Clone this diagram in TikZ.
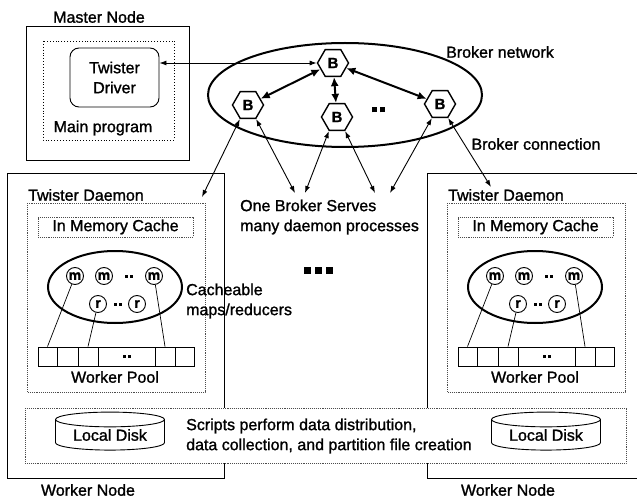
\documentclass[tikz,border=0pt]{standalone}
\usepackage{fontspec}
\setmainfont{Liberation Sans}[RawFeature={embolden=1.2}]
\usetikzlibrary{shapes.geometric, arrows.meta, positioning}

% small square used for the dots
\newcommand{\blob}[1]{\rule{#1}{#1}}

\tikzset{
  box/.style={draw, line width=0.9pt},
  daemonbox/.style={draw=black!70, line width=0.9pt, densely dotted},
  broker/.style={regular polygon, regular polygon sides=6, draw, fill=white,
    line width=1.4pt, minimum size=31pt, inner sep=0pt,
    font=\fontsize{15}{15}\selectfont\bfseries},
  task/.style={circle, draw, fill=white, line width=0.9pt, minimum size=17pt,
    inner sep=0pt, font=\fontsize{14}{14}\selectfont\bfseries},
  cell/.style={draw, line width=0.9pt, minimum height=19pt, inner sep=0pt},
  disk/.style={cylinder, shape border rotate=90, draw, fill=white, line width=0.9pt,
    aspect=0.2, minimum width=109pt, minimum height=38pt, inner sep=0pt},
  link/.style={{Latex[length=7pt,width=5pt]}-{Latex[length=7pt,width=5pt]}, line width=0.9pt},
  backbone/.style={{Latex[length=9pt,width=8pt]}-{Latex[length=9pt,width=8pt]}, line width=2pt}
}

\begin{document}
\begin{tikzpicture}[x=1pt, y=-1pt, font=\fontsize{16}{20}\selectfont]
\useasboundingbox (0,0) rectangle (637,500);

% Master node holding the driver
\node (master) at (99,17) {Master Node};
\draw[box] (26,26) rectangle (189,160);
\draw[dotted, line width=0.9pt] (43,41) rectangle (174,140);
\node[box, rounded corners=9pt, minimum width=89pt, minimum height=59pt, align=center] (driver) at (114.5,77.5) {Twister\\Driver};
\node (mainprog) at (103,128) {Main program};

% Worker boxes first, the band with the disks goes on top
\draw[box] (7,173) rectangle (224,478);
\draw[box] (427,173) rectangle (650,478);

% Left worker node
\node[anchor=west, inner sep=0pt] (ldaemon) at (28,195) {Twister Daemon};
\draw[daemonbox] (27,203) rectangle (205,392);
\node[daemonbox, minimum width=155pt, minimum height=20pt, inner sep=0pt] (lcache) at (115.5,227) {In Memory Cache};
\node[ellipse, draw, line width=2pt, minimum width=134pt, minimum height=72pt] (lpool) at (115,287) {};
\node[task] (lm1) at (75,276) {m};
\node[task] (lm2) at (104,276) {m};
\node[task] (lm3) at (154,276) {m};
\node (lmdots) at (129,276) {\blob{3pt}\hspace{2pt}\blob{3pt}};
\node[task] (lr1) at (98,304) {r};
\node[task] (lr2) at (137,304) {r};
\node (lrdots) at (117.5,304) {\blob{3pt}\hspace{2pt}\blob{3pt}};
\node[cell, minimum width=19pt] (lc1) at (47.5,356.5) {};
\node[cell, minimum width=21pt] (lc2) at (67.5,356.5) {};
\node[cell, minimum width=20pt] (lc3) at (88,356.5) {};
\node[cell, minimum width=57pt] (lc4) at (126.5,356.5) {\blob{3pt}\hspace{2pt}\blob{3pt}};
\node[cell, minimum width=20pt] (lc5) at (165,356.5) {};
\node[cell, minimum width=19pt] (lc6) at (184.5,356.5) {};
\draw[line width=0.7pt] (lm1) -- (lc1.north);
\draw[line width=0.7pt] (lr1) -- (lc3.north);
\draw[line width=0.7pt] (lm3) -- (lc5.north);
\node (lpoolname) at (115,377) {Worker Pool};
\node[inner sep=0pt] (lworker) at (88,490) {Worker Node};

% Right worker node, same layout shifted
\begin{scope}[xshift=420pt]
\node[anchor=west, inner sep=0pt] (rdaemon) at (28,195) {Twister Daemon};
\draw[daemonbox] (27,203) rectangle (205,392);
\node[daemonbox, minimum width=155pt, minimum height=20pt, inner sep=0pt] (rcache) at (115.5,227) {In Memory Cache};
\node[ellipse, draw, line width=2pt, minimum width=134pt, minimum height=72pt] (rpool) at (115,287) {};
\node[task] (rm1) at (75,276) {m};
\node[task] (rm2) at (104,276) {m};
\node[task] (rm3) at (154,276) {m};
\node (rmdots) at (129,276) {\blob{3pt}\hspace{2pt}\blob{3pt}};
\node[task] (rr1) at (98,304) {r};
\node[task] (rr2) at (137,304) {r};
\node (rrdots) at (117.5,304) {\blob{3pt}\hspace{2pt}\blob{3pt}};
\node[cell, minimum width=19pt] (rc1) at (47.5,356.5) {};
\node[cell, minimum width=21pt] (rc2) at (67.5,356.5) {};
\node[cell, minimum width=20pt] (rc3) at (88,356.5) {};
\node[cell, minimum width=57pt] (rc4) at (126.5,356.5) {\blob{3pt}\hspace{2pt}\blob{3pt}};
\node[cell, minimum width=20pt] (rc5) at (165,356.5) {};
\node[cell, minimum width=19pt] (rc6) at (184.5,356.5) {};
\draw[line width=0.7pt] (rm1) -- (rc1.north);
\draw[line width=0.7pt] (rr1) -- (rc3.north);
\draw[line width=0.7pt] (rm3) -- (rc5.north);
\node (rpoolname) at (115,377) {Worker Pool};
\node[inner sep=0pt] (rworker) at (88,490) {Worker Node};
\end{scope}

% Shared band with the local disks
\draw[daemonbox, fill=white] (25,408) rectangle (626,463);
\node[disk] (ldisk) at (110,435) {Local Disk};
\node[disk] (rdisk) at (546,435) {Local Disk};
\node[anchor=west, inner sep=0pt, align=left] (scripts) at (186,436) {Scripts perform data distribution,\\data collection, and partition file creation};

% Broker network
\node[ellipse, draw, line width=2pt, minimum width=274pt, minimum height=104pt] (brokernet) at (345,95) {};
\node[broker] (topB) at (333,63) {B};
\node[broker] (leftB) at (248,105) {B};
\node[broker] (midB) at (337,117) {B};
\node[broker] (rightB) at (440,104) {B};
\node (bdots) at (378,110) {\blob{5pt}\hspace{3pt}\blob{5pt}};
\node (netname) at (500,52) {Broker network};
\node (connname) at (536,144) {Broker connection};

\draw[backbone] (topB) -- (leftB);
\draw[backbone] (topB) -- (midB);
\draw[backbone] (topB) -- (rightB);
\draw[link] (topB.west -| driver.east) -- (topB.west);

% Broker connections down to the daemons
\coordinate (ldtop) at (202,197);
\coordinate (serveA) at (295,193);
\coordinate (serveB) at (305,193);
\coordinate (serveC) at (375,193);
\coordinate (serveD) at (390,193);
\coordinate (rdtop) at (491,187);
\draw[link] (leftB.-120) -- (ldtop);
\draw[link] (leftB.-60) -- (serveA);
\draw[link] (midB.-120) -- (serveB);
\draw[link] (midB.-60) -- (serveC);
\draw[link] (rightB.-120) -- (serveD);
\draw[link] (rightB.-60) -- (rdtop);

\node[anchor=west, inner sep=0pt, align=left] (serves) at (240,217) {One Broker Serves\\many daemon processes};
\node[anchor=west, inner sep=0pt, align=left] (cacheable) at (186,301) {Cacheable\\maps/reducers};
\node (moredots) at (318,270) {\blob{7pt}\hspace{4pt}\blob{7pt}\hspace{4pt}\blob{7pt}};

\end{tikzpicture}
\end{document}
